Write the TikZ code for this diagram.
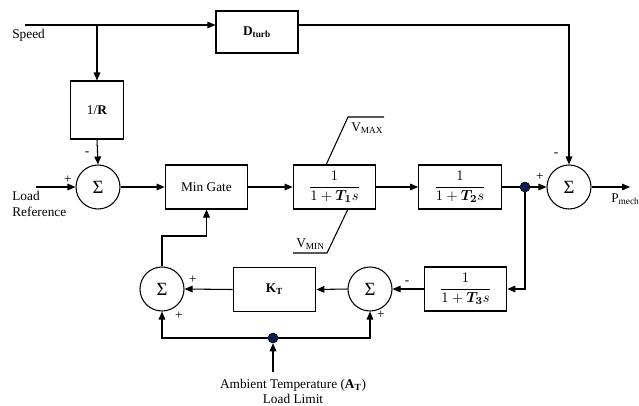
\documentclass[tikz,border=0pt]{standalone}
\usepackage{fontspec}
\setmainfont{Liberation Serif}
\usepackage{amsmath,bm}
\usetikzlibrary{arrows.meta}
\definecolor{dotblue}{RGB}{12,28,80}
\begin{document}
\begin{tikzpicture}[x=0.75pt,y=-0.75pt,
  ln/.style={line width=0.8pt},
  arr/.style={ln,-{Triangle[length=6pt,width=5pt]}},
  blk/.style={draw,line width=0.8pt,minimum width=62pt,minimum height=33pt,inner sep=1pt,font=\fontsize{10}{12}\selectfont},
  fracblk/.style={blk,font=\fontsize{11}{13}\selectfont},
  sumc/.style={circle,draw,line width=0.8pt,minimum size=33pt,inner sep=0pt,font=\fontsize{14}{14}\selectfont},
  jdot/.style={circle,draw=black,fill=dotblue,minimum size=7.5pt,inner sep=0pt},
  lbl/.style={inner sep=0pt,font=\fontsize{10}{12}\selectfont},
  sgn/.style={inner sep=0pt,font=\fontsize{10}{10}\selectfont}
]
\useasboundingbox (0,0) rectangle (639,405);
% blocks
\node[blk,minimum width=61.5pt,minimum height=31.5pt] (dturb) at (257,32) {\textbf{D}\textsubscript{\textbf{turb}}};
\node[blk,minimum width=40pt,minimum height=43.5pt] (R) at (97,110) {1/\textbf{R}};
\node[sumc] (s1) at (98,187) {Σ};
\node[blk] (mg) at (206.5,187) {Min Gate};
\node[fracblk] (t1) at (334.5,187) {$\dfrac{1}{1+\bm{T}_{\bm 1}s}$};
\node[fracblk] (t2) at (460,187) {$\dfrac{1}{1+\bm{T}_{\bm 2}s}$};
\node[jdot] (d1) at (525,187) {};
\node[sumc] (s2) at (569,187) {Σ};
\node[sumc] (s3) at (162,289) {Σ};
\node[blk] (kt) at (274.5,289.5) {\textbf{K}\textsubscript{\textbf{T}}};
\node[sumc] (s4) at (370,289) {Σ};
\node[fracblk] (t3) at (465.5,289) {$\dfrac{1}{1+\bm{T}_{\bm 3}s}$};
\node[jdot] (d2) at (273,338) {};
% coordinates
\coordinate (speedL) at (25,25);
\coordinate (br) at (97,25);
\coordinate (loadL) at (36,187);
\coordinate (pout) at (630,187);
\coordinate (mgtap) at (206.5,236);
\coordinate (amb) at (273,372);
% text labels
\node[lbl,anchor=west] (speed) at (12,35) {Speed};
\node[lbl,anchor=west] (load) at (12,196) {Load};
\node[lbl,anchor=west] (ref) at (12,212) {Reference};
\node[lbl,anchor=west] (pm) at (611,199) {P\textsubscript{mech}};
\node[lbl,anchor=west] (vmax) at (351,128) {V\textsubscript{MAX}};
\node[lbl,anchor=west] (vmin) at (296,244) {V\textsubscript{MIN}};
\node[lbl] (ambt) at (293,385) {Ambient Temperature (\textbf{A}\textsubscript{\textbf{T}})};
\node[lbl] (llim) at (293,399) {Load Limit};
% signs
\node[sgn] (p1) at (68,180) {+};
\node[sgn] (m1) at (87,154) {-};
\node[sgn] (p2) at (540,177) {+};
\node[sgn] (m2) at (556,155) {-};
\node[sgn] (p3) at (193,280) {+};
\node[sgn] (p3b) at (179,316) {+};
\node[sgn] (m4) at (407,283) {-};
\node[sgn] (p4) at (381,315) {+};
% connectors
\draw[arr] (speedL) -- (speedL -| dturb.west);
\draw[arr] (dturb.east |- speedL) -| (s2.north);
\draw[arr] (br) -- (br |- R.north);
\draw[arr] (R.south) -- (s1.north);
\draw[arr] (loadL) -- (s1.west);
\draw[arr] (s1.east) -- (mg.west);
\draw[arr] (mg.east) -- (t1.west);
\draw[arr] (t1.east) -- (t2.west);
\draw[ln] (t2.east) -- (d1);
\draw[arr] (d1) -- (s2.west);
\draw[arr] (s2.east) -- (pout);
\draw[arr] (d1) |- (t3.east);
\draw[arr] (t3.west) -- (s4.east);
\draw[arr] (s4.west) -- (kt.east);
\draw[arr] (kt.west) -- (s3.east);
\draw[arr] (s3.north) |- (mgtap) -- (mgtap |- mg.south);
\draw[arr] (d2) -| (s3.south);
\draw[arr] (d2) -| (s4.south);
\draw[arr] (amb) -- (d2.south);
% limiter lines
\draw[ln] (326,165) -- (348,117) -- (384,117);
\draw[ln] (348,209) -- (327,253) -- (293,253);
\end{tikzpicture}
\end{document}
